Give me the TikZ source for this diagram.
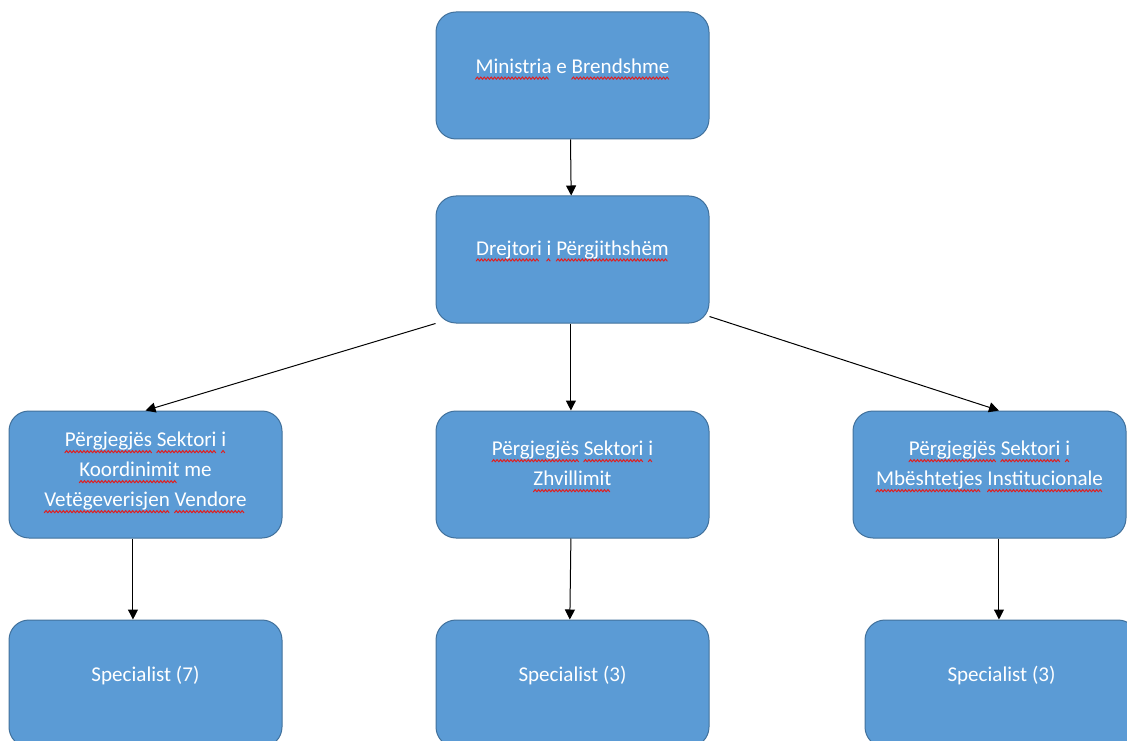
\documentclass[tikz,border=0pt]{standalone}
\usepackage{fontspec}
\setmainfont{Carlito}
\usepackage{tikz}
\usetikzlibrary{arrows.meta,positioning}

\definecolor{boxblue}{RGB}{91,155,213}
\definecolor{boxline}{RGB}{65,113,156}
\definecolor{spellred}{RGB}{224,32,32}

% one period of the red squiggle
\newsavebox{\wavetile}
\sbox{\wavetile}{\tikz[line width=0.75pt]{\useasboundingbox (0,0) rectangle (2.6pt,1.6pt);
  \draw[spellred, line cap=round] (0,0) -- (1.3pt,1.6pt) -- (2.6pt,0);}}
\newsavebox{\waveword}
\newcommand{\wav}[1]{\sbox{\waveword}{#1}\leavevmode
  \rlap{\raisebox{-4.4pt}{\hbox to\wd\waveword{\leaders\copy\wavetile\hfill}}}\usebox{\waveword}}

\tikzset{
  orgbox/.style={rectangle, rounded corners=15pt, draw=boxline, line width=0.75pt,
    fill=boxblue, minimum width=204.75pt, minimum height=95.25pt, inner sep=0pt},
  orgtext/.style={text=white, align=center, inner sep=0pt,
    font=\fontsize{15.8pt}{22.5pt}\selectfont},
  arr/.style={-{Triangle[length=7.5pt,width=7.5pt]}, line width=0.75pt}
}

\begin{document}
\begin{tikzpicture}[x=0.75pt,y=0.75pt]
		\useasboundingbox (0,0) rectangle (1127,740);
		
		\node[orgbox] (min) at (572.5,664.5) {};
		\node[orgbox] (dir) [below=42pt of min] {};
		\node[orgbox] (M) [below=65.25pt of dir] {};
		\node[orgbox] (L) [left=114.75pt of M] {};
		\node[orgbox] (R) [right=107.25pt of M] {};
		\node[orgbox] (SL) [below=60.75pt of L] {};
		\node[orgbox] (SM) [below=60.75pt of M] {};
		\node[orgbox] (SR) [below=60.75pt of R, xshift=9pt] {};
		
		\node[orgtext] (min-t) at ([yshift=4.9pt]min.center) {\wav{Ministria} e \wav{Brendshme}};
		\node[orgtext] (dir-t) at ([yshift=6.5pt]dir.center) {\wav{Drejtori} \wav{i} \wav{Përgjithshëm}};
		\node[orgtext] (L-t) at ([yshift=1.5pt]L.center) {\wav{Përgjegjës} \wav{Sektori} \wav{i}\\ \wav{Koordinimit} me\\ \wav{Vetëgeverisjen} \wav{Vendore}};
		\node[orgtext] (M-t) at ([yshift=6pt]M.center) {\wav{Përgjegjës} \wav{Sektori} \wav{i}\\ \wav{Zhvillimit}};
		\node[orgtext] (R-t) at ([yshift=6pt]R.center) {\wav{Përgjegjës} \wav{Sektori} \wav{i}\\ \wav{Mbështetjes} \wav{Institucionale}};
		\node[orgtext] (SL-t) at ([yshift=6.3pt]SL.center) {Specialist (7)};
		\node[orgtext] (SM-t) at ([yshift=6.3pt]SM.center) {Specialist (3)};
		\node[orgtext] (SR-t) at ([yshift=6.3pt]SR.center) {Specialist (3)};
		
		\draw[arr] ([xshift=-1.5pt]min.south) -- ([xshift=-1pt]dir.north);
		\draw[arr] (dir.south west) -- (L.north);
		\draw[arr] ([xshift=-1.2pt]dir.south) -- ([xshift=-1.2pt]M.north);
		\draw[arr] ([yshift=5.25pt]dir.south east) -- ([xshift=7.1pt]R.north);
		\draw[arr] ([xshift=-9.4pt]L.south) -- ([xshift=-9.4pt]SL.north);
		\draw[arr] ([xshift=-1.2pt]M.south) -- ([xshift=-2pt]SM.north);
		\draw[arr] ([xshift=7.1pt]R.south) -- ([xshift=-1.9pt]SR.north);
	\end{tikzpicture}
\end{document}
